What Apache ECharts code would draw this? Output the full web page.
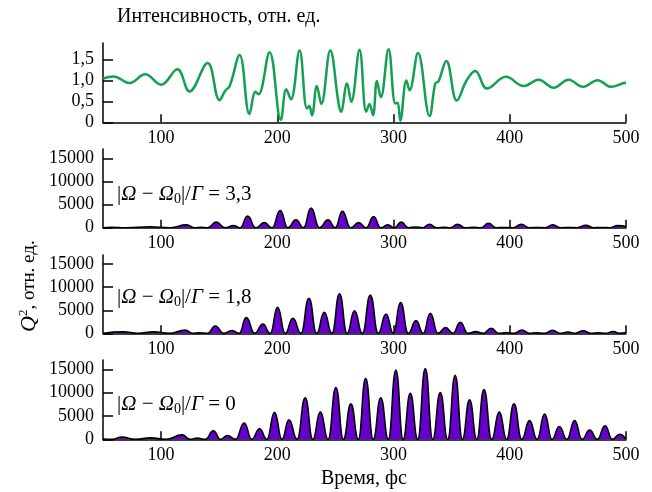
<!DOCTYPE html>
<html>
<head>
<meta charset="utf-8">
<script src="https://cdn.jsdelivr.net/npm/echarts@6/dist/echarts.min.js"></script>
<style>html,body{margin:0;padding:0;background:#fff}#c{width:652px;height:492px}</style>
</head>
<body>
<div id="c"></div>
<script>
// ---- data ----
var timeTicks = [100, 200, 300, 400, 500];
var intensityTicks = [0, 0.5, 1.0, 1.5];
var qTicks = [0, 5000, 10000, 15000];

// intensity (top panel): [time fs, value]
var intensity = [
  [50,1.05],[59,1.10],[72.8,0.94],[86.3,1.15],[100,0.90],[114,1.27],[124.4,0.74],
  [140,1.42],[150.3,0.53],[155,0.75],[159,0.87],[167.5,1.61],[176,0.20],[181.2,0.73],
  [183.8,0.67],[193.3,1.68],[203,0.06],[207.7,0.79],[211.7,0.55],[219.1,1.72],
  [225.5,0.33],[227.5,0.39],[229.8,0.17],[234,0.87],[237.8,0.44],[245.5,1.72],
  [252.7,0.45],[254.7,0.25],[260,0.93],[263.6,0.49],[270.7,1.74],[276.5,0.25],
  [279.3,0.44],[282.3,0.17],[285.7,0.99],[289,0.6],[295.7,1.75],[301.5,0.45],
  [303.5,0.47],[305.8,0.04],[311,1.0],[313.8,0.77],[321,1.66],[331,0.15],[335.9,0.93],
  [338.7,0.98],[345.4,1.47],[354.5,0.52],[362.6,0.99],[370.3,1.23],[380.4,0.81],
  [396.7,1.09],[411.9,0.87],[424.8,1.02],[437.7,0.83],[450.6,1.02],[463,0.85],
  [475.6,1.01],[487.1,0.85],[498,0.94],[500,0.95]
];

// Q^2, |Ω−Ω0|/Γ = 3,3
var q33 = [
  [50,0],[57,100],[70,0],[90,200],[108,0],[122,600],[129,0],[134,100],[140,0],
  [147.4,1200],[155,0],[162.3,450],[168,0],[174.4,2500],[181.5,0],[188.8,1100],
  [195.5,0],[202.5,3700],[209,0],[216,1700],[222.5,0],[229,4250],[236.3,0],
  [243.6,1700],[249.8,0],[256,3550],[263,0],[270,1100],[276.4,0],[282.8,2400],
  [289,0],[295,600],[300.8,0],[306.6,1200],[312.8,0],[319,150],[325,0],[331,730],
  [337,0],[343,100],[349,0],[355,730],[362,0],[369,100],[375.3,0],[381.7,950],
  [388.3,0],[395,50],[402.5,0],[410,730],[416.5,0],[423,50],[430,0],[437,600],
  [444,0],[451,50],[458,0],[465.5,500],[472,0],[479,50],[486,0],[493,450],[500,250]
];

// Q^2, |Ω−Ω0|/Γ = 1,8
var q18 = [
  [50,0],[67.6,300],[80,0],[93.5,300],[107,0],[120.7,700],[127,0],[133,100],[140,0],
  [146.6,1600],[153.8,0],[161,600],[167.2,0],[173.3,3400],[180.5,0],[187.6,2000],
  [193.9,0],[200.2,5650],[206.8,0],[213.4,3250],[220.3,0],[227.2,7600],[233.8,0],
  [240.4,4560],[247,0],[253.5,8550],[260,0],[266.4,4900],[273.2,0],[280,8300],
  [286.8,0],[293.5,4200],[299.8,0],[306,6650],[312.7,0],[319.3,2750],[325.5,0],
  [331.6,4350],[338.2,0],[344.8,1230],[351.1,0],[357.4,2400],[364,0],[370.6,360],
  [377.3,0],[384,1090],[390.5,0],[397,150],[403.8,0],[410.5,720],[416.8,0],[423,100],
  [430,0],[436.8,650],[443.4,0],[450,250],[456.5,0],[463,550],[469.5,0],[476,100],
  [482.5,0],[489,400],[494.5,0],[500,150]
];

// Q^2, |Ω−Ω0|/Γ = 0
var q0 = [
  [50,50],[58,0],[66,500],[78,0],[91,300],[104,0],[118,950],[125,0],[131,250],[138,0],
  [145,1800],[151,0],[157,800],[164,0],[171.5,3500],[178,0],[184.7,2250],[191,0],
  [197.6,5800],[204,0],[210,4200],[217,0],[224,8900],[230.5,0],[237,5870],[243.7,0],
  [250.4,11100],[256.8,0],[263.3,7600],[269.7,0],[276,13100],[282.5,0],[289,8900],
  [295.5,0],[302,14850],[308.2,0],[314.4,9850],[320.8,0],[327.3,15150],[333.7,0],
  [340.2,10000],[346.6,0],[353,13700],[359.2,0],[365.4,8480],[371.6,0],[377.8,10650],
  [384.4,0],[391,5870],[397.3,0],[403.6,7600],[410.3,0],[417,4000],[423.5,0],
  [430,5430],[436.3,0],[442.6,2750],[449.2,0],[455.8,4000],[462.2,0],[468.7,1960],
  [475.3,0],[482,2900],[488.2,0],[494.5,1090],[500,0]
];

var panelLabels = ['3,3', '1,8', '0'];

// ---- chart ----
var FONT = 'Liberation Serif';
var chart = echarts.init(document.getElementById('c'), null, {renderer: 'canvas'});

function xAxis(i) {
  return {
    type: 'value', gridIndex: i, min: 50, max: 500,
    axisLine: {show: true, onZero: false, lineStyle: {color: '#000', width: 1.5}},
    axisTick: {show: true, inside: true, length: 8, customValues: timeTicks, lineStyle: {color: '#000', width: 1.5}},
    axisLabel: {show: true, customValues: timeTicks, color: '#000', fontSize: 18, fontFamily: FONT, margin: 7,
      formatter: function (v) { return String(v); }},
    splitLine: {show: false}
  };
}
function yAxis(i, max, ticks, fmt) {
  return {
    type: 'value', gridIndex: i, min: 0, max: max,
    axisLine: {show: true, lineStyle: {color: '#000', width: 1.5}},
    axisTick: {show: true, inside: true, length: 10, customValues: ticks, lineStyle: {color: '#000', width: 1.5}},
    axisLabel: {show: true, customValues: ticks, color: '#000', fontSize: 18, fontFamily: FONT, margin: 9,
      formatter: fmt || function (v) { return String(Math.round(v)); }},
    splitLine: {show: false}
  };
}
function areaSeries(i, data) {
  return {
    type: 'line', xAxisIndex: i, yAxisIndex: i, data: data,
    smooth: 0.5, smoothMonotone: 'x', showSymbol: false, symbol: 'none',
    lineStyle: {color: '#000', width: 1.6},
    areaStyle: {color: '#6600cc', opacity: 1},
    z: 2
  };
}
function annot(top, val) {
  return {
    type: 'text', left: 117, top: top, z: 10,
    style: {
      text: '{n||}{i|Ω}{n| − }{i|Ω}{s|0}{n||/}{i|Γ}{n| = ' + val + '}',
      rich: {
        n: {fontFamily: FONT, fontSize: 21, color: '#000', lineHeight: 22},
        i: {fontFamily: FONT, fontSize: 21, fontStyle: 'italic', color: '#000', lineHeight: 22},
        s: {fontFamily: FONT, fontSize: 14, color: '#000', verticalAlign: 'bottom', lineHeight: 24}
      }
    }
  };
}

var gridsPos = [
  {top: 43, height: 79.3},
  {top: 149, height: 78.7},
  {top: 255, height: 78.3},
  {top: 360, height: 79.3}
];

chart.setOption({
  animation: false,
  backgroundColor: '#fff',
  grid: gridsPos.map(function (g) { return {left: 103, right: 26, top: g.top, height: g.height}; }),
  xAxis: [xAxis(0), xAxis(1), xAxis(2), xAxis(3)],
  yAxis: [
    yAxis(0, 1.9, intensityTicks, function (v) { return v === 0 ? '0' : v.toFixed(1).replace('.', ','); }),
    yAxis(1, 17000, qTicks),
    yAxis(2, 17000, qTicks),
    yAxis(3, 17000, qTicks)
  ],
  series: [
    {
      type: 'line', xAxisIndex: 0, yAxisIndex: 0, data: intensity,
      smooth: 0.4, showSymbol: false, symbol: 'none',
      lineStyle: {color: '#13a052', width: 2.5}
    },
    areaSeries(1, q33),
    areaSeries(2, q18),
    areaSeries(3, q0)
  ],
  graphic: [
    {type: 'text', left: 117, top: 7, style: {text: 'Интенсивность, отн. ед.', fontFamily: FONT, fontSize: 20, fill: '#000'}},
    {type: 'text', left: 321, top: 469, style: {text: 'Время, фс', fontFamily: FONT, fontSize: 20, fill: '#000'}},
    {
      type: 'text', x: 17, y: 332, rotation: Math.PI / 2,
      style: {
        text: '{q|Q}{sup|2}{n|, отн. ед.}',
        rich: {
          q: {fontFamily: FONT, fontSize: 22, fontStyle: 'italic', color: '#000', lineHeight: 24},
          sup: {fontFamily: FONT, fontSize: 13, color: '#000', verticalAlign: 'top', lineHeight: 24},
          n: {fontFamily: FONT, fontSize: 19, color: '#000', lineHeight: 24}
        }
      }
    },
    annot(184, panelLabels[0]),
    annot(287, panelLabels[1]),
    annot(394, panelLabels[2])
  ]
});
</script>
</body>
</html>
